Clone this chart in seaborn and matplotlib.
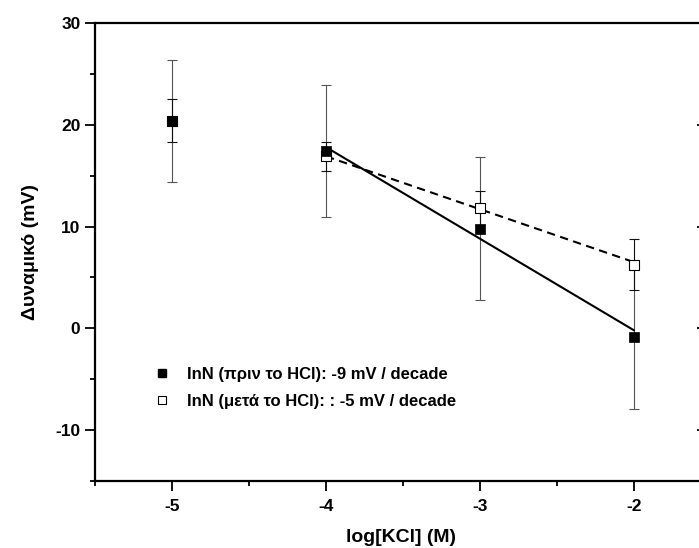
import matplotlib
matplotlib.use("Agg")
import matplotlib.pyplot as plt
import seaborn as sns
import pandas as pd
from matplotlib.lines import Line2D
from matplotlib.ticker import FixedLocator, NullFormatter

# ---- data ----
log_kcl = [-5, -4, -3, -2]
before_hcl = [20.4, 17.4, 9.8, -0.85]
before_err = [6.0, 6.5, 7.05, 7.1]
after_hcl = [20.4, 16.9, 11.8, 6.26]
after_err = [2.1, 1.4, 1.65, 2.5]
fit_x = [-4, -2]
fit_before = [17.8, -0.2]
fit_after = [16.9, 6.5]
legend_labels = ["InN (πριν το HCl): -9 mV / decade",
                 "InN (μετά το HCl): : -5 mV / decade"]
x_ticks = [-5, -4, -3, -2]
y_ticks = [-10, 0, 10, 20, 30]
x_label = "log[KCl] (M)"
y_label = "Δυναμικό (mV)"

sns.set_theme(style="ticks")
plt.rcParams["font.family"] = ["Liberation Sans", "DejaVu Sans"]
plt.rcParams["font.weight"] = "bold"
plt.rcParams["text.color"] = "black"
plt.rcParams["axes.labelcolor"] = "black"
plt.rcParams["xtick.color"] = "black"
plt.rcParams["ytick.color"] = "black"

W, H = 699, 548
fig = plt.figure(figsize=(W / 100, H / 100), dpi=100)
fig.patch.set_facecolor("white")
ax = fig.add_axes([95 / W, 1 - 481 / H, (708 - 95) / W, (481 - 23) / H])
ax.set_facecolor("white")

df_pts = pd.DataFrame({"x": log_kcl, "before": before_hcl, "after": after_hcl})
df_fit = pd.DataFrame({"x": fit_x, "before": fit_before, "after": fit_after})

# error bars
ax.errorbar(log_kcl, before_hcl, yerr=before_err, fmt="none", ecolor="#555555",
            elinewidth=0.8, capsize=3.6, capthick=0.8, zorder=2)
ax.errorbar(log_kcl, after_hcl, yerr=after_err, fmt="none", ecolor="#111111",
            elinewidth=0.8, capsize=3.6, capthick=0.8, zorder=2)

# fit lines
sns.lineplot(data=df_fit, x="x", y="before", ax=ax, color="black", lw=1.5,
             zorder=3, legend=False)
sns.lineplot(data=df_fit, x="x", y="after", ax=ax, color="black", lw=1.5,
             zorder=3, legend=False)
ax.lines[-1].set_dashes((4, 2.6))

# markers
sns.scatterplot(data=df_pts, x="x", y="after", ax=ax, marker="s", s=52,
                facecolor="white", edgecolor="black", linewidth=0.8, zorder=4)
sns.scatterplot(data=df_pts, x="x", y="before", ax=ax, marker="s", s=58,
                color="black", edgecolor="black", linewidth=0.5, zorder=5)

ax.set_xlim(-5.5, -1.52)
ax.set_ylim(-15, 30)
ax.xaxis.set_major_locator(FixedLocator(x_ticks))
ax.xaxis.set_minor_locator(FixedLocator([-5.5, -4.5, -3.5, -2.5]))
ax.yaxis.set_major_locator(FixedLocator(y_ticks))
ax.yaxis.set_minor_locator(FixedLocator([-15, -5, 5, 15, 25]))
ax.set_xticklabels([str(v) for v in x_ticks], fontsize=12.5, fontweight="bold")
ax.set_yticklabels([str(v) for v in y_ticks], fontsize=12.5, fontweight="bold")

for s in ax.spines.values():
    s.set_linewidth(1.6)
    s.set_color("black")
ax.tick_params(axis="both", which="major", direction="out", length=7.5, width=1.3,
               color="black", pad=3, labelcolor="black")
ax.tick_params(axis="both", which="minor", direction="out", length=3.7, width=1.3,
               color="black")
ax.tick_params(axis="x", which="major", pad=5.5)

# right-hand axis with inward ticks (mostly cut off by the figure edge)
ax2 = ax.twinx()
ax2.set_ylim(ax.get_ylim())
ax2.yaxis.set_major_locator(FixedLocator(y_ticks))
ax2.yaxis.set_minor_locator(FixedLocator([-15, -5, 5, 15, 25]))
ax2.yaxis.set_major_formatter(NullFormatter())
ax2.tick_params(axis="y", which="major", direction="in", length=8, width=1.3,
                color="black")
ax2.tick_params(axis="y", which="minor", direction="in", length=4, width=1.3,
                color="black")
for s in ax2.spines.values():
    s.set_visible(False)

ax.set_xlabel(x_label, fontsize=14, fontweight="bold", labelpad=11, color="black")
ax.set_ylabel(y_label, fontsize=14, fontweight="bold", labelpad=12, color="black")

handles = [Line2D([], [], marker="s", color="black", markerfacecolor="black",
                  linestyle="none", markersize=5.8),
           Line2D([], [], marker="s", color="black", markerfacecolor="white",
                  markeredgewidth=0.8, linestyle="none", markersize=5.5)]
leg = ax.legend(handles, legend_labels, loc="upper left",
                bbox_to_anchor=(154 / W, 1 - 367 / H), bbox_transform=fig.transFigure,
                frameon=False, handlelength=1.0, handletextpad=1.0,
                borderpad=0, borderaxespad=0, labelspacing=0.72,
                prop={"weight": "bold", "size": 12})
for t in leg.get_texts():
    t.set_color("black")

fig.savefig("out.png", dpi=100)
